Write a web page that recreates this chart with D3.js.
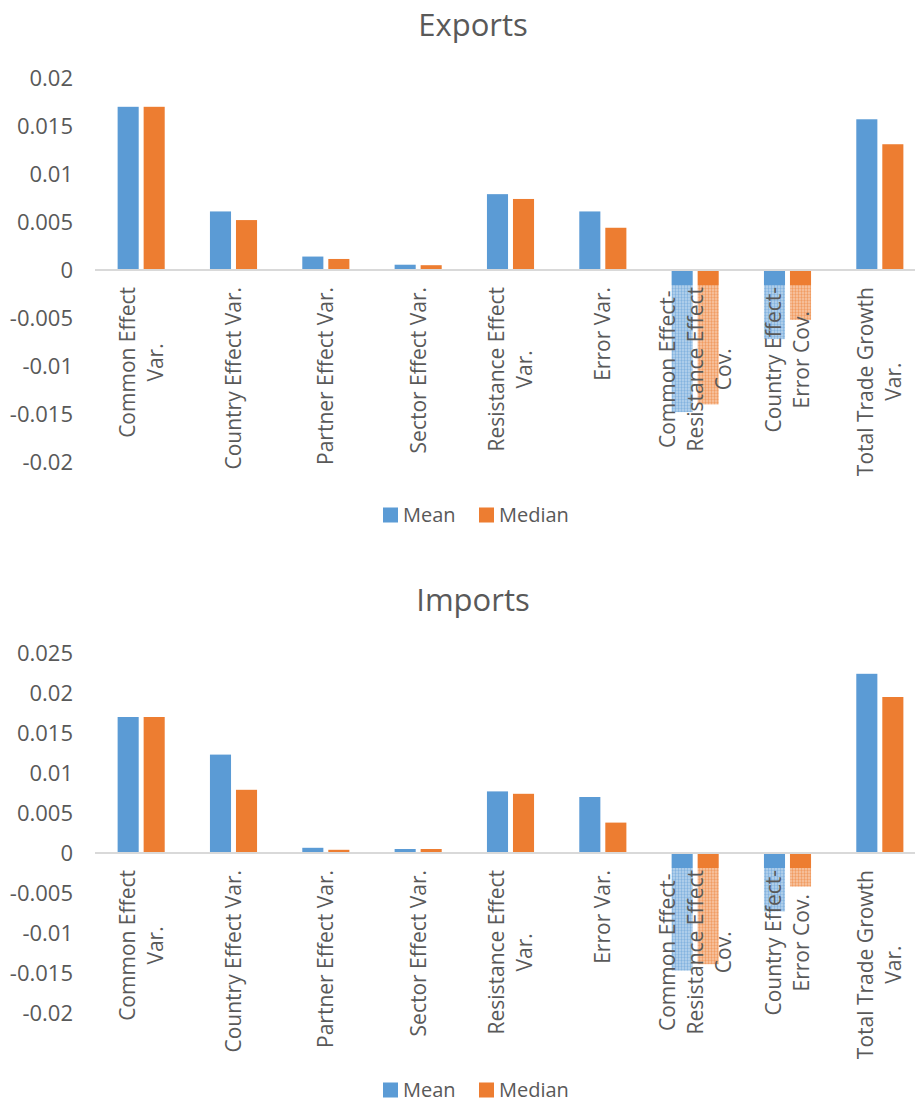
<!DOCTYPE html>
<html>
<head>
<meta charset="utf-8">
<script src="https://cdn.jsdelivr.net/npm/d3@7/dist/d3.min.js"></script>
<style>
  html, body { margin: 0; padding: 0; background: #fff; }
  svg { display: block; font-family: "Open Sans", "Noto Sans", sans-serif; }
</style>
</head>
<body>
<svg id="chart" width="915" height="1103"></svg>
<script>
// Variance decomposition of trade growth: exports and imports
const categories = [
  "Common Effect Var.", "Country Effect Var.", "Partner Effect Var.",
  "Sector Effect Var.", "Resistance Effect Var.", "Error Var.",
  "Common Effect-Resistance Effect Cov.", "Country Effect-Error Cov.",
  "Total Trade Growth Var."
];
const categoryLines = [
  ["Common Effect", "Var."],
  ["Country Effect Var."],
  ["Partner Effect Var."],
  ["Sector Effect Var."],
  ["Resistance Effect", "Var."],
  ["Error Var."],
  ["Common Effect-", "Resistance Effect", "Cov."],
  ["Country Effect-", "Error Cov."],
  ["Total Trade Growth", "Var."]
];
const seriesNames = ["Mean", "Median"];
const seriesColors = ["#5b9bd5", "#ed7d31"];

const exportsMean   = [0.0170, 0.0061, 0.00140, 0.00055, 0.0079, 0.0061, -0.0148, -0.0072, 0.0157];
const exportsMedian = [0.0170, 0.0052, 0.00115, 0.00050, 0.0074, 0.0044, -0.0140, -0.0052, 0.0131];
const importsMean   = [0.0170, 0.0123, 0.00065, 0.00050, 0.0077, 0.0070, -0.0147, -0.0073, 0.0224];
const importsMedian = [0.0170, 0.0079, 0.00040, 0.00050, 0.0074, 0.0038, -0.0139, -0.0042, 0.0195];

const exportsTicks = [-0.02, -0.015, -0.01, -0.005, 0, 0.005, 0.01, 0.015, 0.02];
const importsTicks = [-0.02, -0.015, -0.01, -0.005, 0, 0.005, 0.01, 0.015, 0.02, 0.025];

const svg = d3.select("#chart");
const textColor = "#595959";

// Hatched fills used for the lower part of negative bars
const defs = svg.append("defs");
seriesColors.forEach((c, i) => {
  const p = defs.append("pattern")
    .attr("id", "hatch" + i)
    .attr("patternUnits", "userSpaceOnUse")
    .attr("width", 3).attr("height", 3);
  p.append("rect").attr("width", 3).attr("height", 3).attr("fill", "#fff");
  p.append("rect").attr("width", 3).attr("height", 3).attr("fill", c).attr("opacity", 0.5);
  p.append("rect").attr("x", 0).attr("y", 0).attr("width", 1).attr("height", 3).attr("fill", c).attr("opacity", 0.35);
  p.append("rect").attr("x", 0).attr("y", 0).attr("width", 3).attr("height", 1).attr("fill", c).attr("opacity", 0.25);
});

function drawChart(opts) {
  const g = svg.append("g");
  const x = d3.scaleBand().domain(categories).range([95, 926])
    .paddingInner(0.49).paddingOuter(0.245);
  const xs = d3.scaleBand().domain(seriesNames).range([0, x.bandwidth()]).paddingInner(0.19);
  const y = d3.scaleLinear().domain(opts.domain).range(opts.range);
  const y0 = y(0);

  // title
  g.append("text").attr("x", 473).attr("y", opts.titleY)
    .attr("text-anchor", "middle").attr("font-size", 31).attr("fill", textColor)
    .text(opts.title);

  // value axis labels
  const axis = d3.axisLeft(y).tickValues(opts.ticks)
    .tickFormat(v => String(+v.toFixed(3))).tickSize(0).tickPadding(0);
  const ax = g.append("g").attr("transform", "translate(73,0)").call(axis);
  ax.select(".domain").remove();
  ax.selectAll("text").attr("font-size", 22).attr("fill", textColor)
    .attr("font-family", "'Open Sans', sans-serif");

  // bars
  const data = [];
  categories.forEach((c, i) => {
    opts.series.forEach((vals, s) => data.push({ c, s, v: vals[i] }));
  });
  const solidDepth = 15;
  const bars = g.append("g");
  data.forEach(d => {
    const bx = x(d.c) + xs(seriesNames[d.s]);
    const bw = xs.bandwidth();
    const yv = y(d.v);
    if (d.v >= 0) {
      bars.append("rect").attr("x", bx).attr("y", yv).attr("width", bw)
        .attr("height", y0 - yv).attr("fill", seriesColors[d.s]);
    } else {
      const solidEnd = Math.min(yv, y0 + solidDepth);
      bars.append("rect").attr("x", bx).attr("y", solidEnd).attr("width", bw)
        .attr("height", Math.max(0, yv - solidEnd)).attr("fill", "url(#hatch" + d.s + ")");
      bars.append("rect").attr("x", bx).attr("y", y0).attr("width", bw)
        .attr("height", solidEnd - y0).attr("fill", seriesColors[d.s]);
    }
  });

  // zero line
  g.append("line").attr("x1", 95).attr("x2", 926).attr("y1", y0).attr("y2", y0)
    .attr("stroke", "#d9d9d9").attr("stroke-width", 2);

  // category labels, rotated; lines centred on each other, block hanging from the axis
  const lineGap = 28;
  categories.forEach((c, i) => {
    const cx = x(c) + x.bandwidth() / 2;
    const lines = categoryLines[i];
    const lg = g.append("g")
      .attr("transform", `translate(${cx},${y0 + 17}) rotate(-90)`);
    const texts = lines.map((t, k) => lg.append("text")
      .attr("y", (k - (lines.length - 1) / 2) * lineGap)
      .attr("dy", "0.36em")
      .attr("text-anchor", "middle")
      .attr("font-size", 21).attr("fill", textColor)
      .text(t));
    const maxLen = d3.max(texts, t => t.node().getComputedTextLength());
    texts.forEach(t => t.attr("x", -maxLen / 2));
  });

  // legend
  const leg = g.append("g");
  const legX = [383, 479];
  seriesNames.forEach((n, s) => {
    leg.append("rect").attr("x", legX[s]).attr("y", opts.legendY - 7.5)
      .attr("width", 15).attr("height", 15).attr("fill", seriesColors[s]);
    leg.append("text").attr("x", legX[s] + 20).attr("y", opts.legendY)
      .attr("dy", "0.35em").attr("font-size", 20).attr("fill", textColor).text(n);
  });
}

drawChart({
  title: "Exports", titleY: 36,
  domain: [-0.02, 0.02], range: [462, 78], ticks: exportsTicks,
  series: [exportsMean, exportsMedian], legendY: 515
});
drawChart({
  title: "Imports", titleY: 611,
  domain: [-0.02, 0.025], range: [1013, 653], ticks: importsTicks,
  series: [importsMean, importsMedian], legendY: 1090
});
</script>
</body>
</html>
